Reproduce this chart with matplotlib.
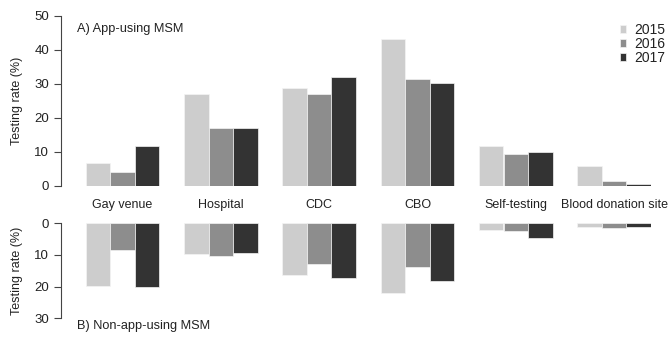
from matplotlib import pyplot as plt
import numpy as np

plt.rcParams['font.family'] = ['Liberation Sans', 'DejaVu Sans']

# testing venues and years
venues = ['Gay venue', 'Hospital', 'CDC', 'CBO', 'Self-testing', 'Blood donation site']
years = ['2015', '2016', '2017']

# A) app-using MSM, testing rate (%) per venue
app_2015 = [6.7, 27.1, 28.7, 43.1, 11.8, 6.0]
app_2016 = [4.2, 17.0, 27.1, 31.5, 9.3, 1.4]
app_2017 = [11.8, 17.0, 32.1, 30.2, 10.1, 0.7]

# B) non-app-using MSM, testing rate (%) per venue
non_2015 = [19.8, 9.7, 16.4, 22.1, 2.0, 1.3]
non_2016 = [8.3, 10.2, 12.9, 13.9, 2.5, 1.4]
non_2017 = [20.0, 9.4, 17.2, 18.1, 4.7, 1.1]

colors = ['#cdcdcd', '#8d8d8d', '#333333']
W, H = 670, 338
TXT = '#222222'

fig = plt.figure(figsize=(W / 100, H / 100), dpi=100)

# axes placed by pixel: x=0 at px 61, x=24 at px 651
x0, x1 = 61, 651
ax_top = fig.add_axes([x0 / W, (H - 186) / H, (x1 - x0) / W, 170 / H])
ax_bot = fig.add_axes([x0 / W, (H - 318.3) / H, (x1 - x0) / W, 95 / H])

# R-style beside barplot: bars of width 1, one-unit gap between groups
group_left = 1 + 4 * np.arange(len(venues))

def style(ax, ticks):
    for s in ['top', 'right', 'bottom']:
        ax.spines[s].set_visible(False)
    ax.spines['left'].set_bounds(ticks[0], ticks[-1])
    ax.spines['left'].set_color('#444444')
    ax.spines['left'].set_linewidth(0.8)
    ax.set_yticks(ticks)
    ax.tick_params(axis='y', length=5, width=0.8, color='#444444', pad=3.5,
                   labelsize=9.5, labelcolor=TXT)
    ax.set_xticks([])
    ax.set_xlim(0, 24)
    ax.patch.set_alpha(0)
    ax.set_ylabel('Testing rate (%)', fontsize=9, color=TXT)
    ax.yaxis.set_label_coords(-(x0 - 23) / (x1 - x0), 0.5)

handles = []
for j, vals in enumerate([app_2015, app_2016, app_2017]):
    b = ax_top.bar(group_left + j, vals, width=1, align='edge', color=colors[j],
                   edgecolor='#f4f4f4', linewidth=0.5)
    handles.append(b)
for j, vals in enumerate([non_2015, non_2016, non_2017]):
    ax_bot.bar(group_left + j, vals, width=1, align='edge', color=colors[j],
               edgecolor='#f4f4f4', linewidth=0.5)

ax_top.set_ylim(0, 50)
ax_bot.set_ylim(30, 0)
style(ax_top, [0, 10, 20, 30, 40, 50])
style(ax_bot, [0, 10, 20, 30])

# venue names between the panels
for g, name in zip(group_left, venues):
    ax_top.text(g + 1.5, -(205 - 186) / 170, name, transform=ax_top.get_xaxis_transform(),
                ha='center', va='center', fontsize=9, color=TXT)

ax_top.text(77 / W, (H - 29) / H, 'A) App-using MSM', transform=fig.transFigure,
            ha='left', va='center', fontsize=9.2, color=TXT)
ax_bot.text(77 / W, (H - 326) / H, 'B) Non-app-using MSM', transform=fig.transFigure,
            ha='left', va='center', fontsize=9.2, color=TXT)

leg = ax_top.legend(handles, years, loc='upper left', bbox_to_anchor=(620 / W, (H - 23) / H),
                    bbox_transform=fig.transFigure, frameon=False, fontsize=10,
                    handlelength=0.45, handleheight=0.45, handletextpad=0.6,
                    labelspacing=0.0, borderpad=0, borderaxespad=0)
for t in leg.get_texts():
    t.set_color(TXT)

fig.savefig('out.png', dpi=100)
